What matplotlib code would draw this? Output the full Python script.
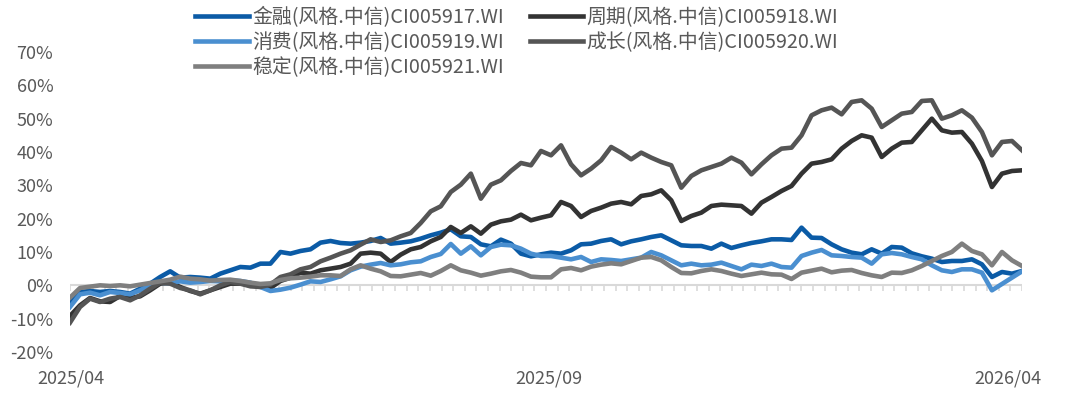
import numpy as np
import matplotlib
matplotlib.use("Agg")
import matplotlib.pyplot as plt

plt.rcParams['font.family'] = ['Noto Sans CJK SC', 'DejaVu Sans']

# cumulative return (%) of the CITIC style indices, roughly every 10 px of the source
finance = [-5, -2, -1.7, -2, -1.7, -2, -2.5, -1, 0.5, 2.5,
           4.2, 2.3, 2.5, 2.3, 2, 3.5, 4.5, 5.5, 5.3, 6.5,
           6.5, 10.0, 9.5, 10.3, 10.8, 12.8, 13.3, 12.7, 12.5, 12.8,
           13.3, 14.2, 12.5, 12.8, 13.2, 14, 15, 15.8, 16.8, 14.7,
           14.5, 12.3, 11.7, 13.7, 12.5, 9.5, 8.7, 9.3, 9.8, 9.5,
           10.5, 12.3, 12.5, 13.3, 13.8, 12.3, 13.2, 13.8, 14.5, 15,
           13.5, 12, 11.8, 11.8, 11, 12.5, 11.2, 12, 12.7, 13.2,
           13.8, 13.8, 13.6, 17.3, 14.3, 14.2, 12.3, 10.8, 9.8, 9.3,
           10.8, 9.5, 11.5, 11.3, 9.6, 8.7, 8, 7, 7.3, 7.3,
           7.8, 6.3, 2.5, 4, 3.5, 4.3]
cyclical = [-9.2, -6, -3.8, -4.8, -5, -3.2, -3.8, -3.3, -1.5, 0.5,
            0.8, -0.5, -1.7, -2.5, -1.5, -0.5, 0.5, 0.5, 0.3, -0.3,
            -0.8, 1.3, 2.3, 3.8, 3.5, 4.5, 5, 5.5, 6.5, 9.5,
            9.8, 9.5, 7, 9.2, 10.8, 11.5, 13.2, 14.5, 17.5, 15.7,
            17.7, 15.5, 18.2, 19.2, 19.7, 21.2, 19.5, 20.3, 21, 25,
            23.8, 20.5, 22.3, 23.3, 24.5, 25, 24.3, 26.8, 27.3, 28.5,
            25.5, 19.3, 20.8, 21.8, 23.8, 24.2, 24, 23.8, 21.5, 24.8,
            26.5, 28.3, 29.8, 33.5, 36.5, 37, 37.8, 41, 43.3, 45,
            44.3, 38.5, 41, 42.8, 43, 46.5, 50, 46.5, 45.8, 46,
            42.5, 37.3, 29.5, 33.5, 34.3, 34.5]
consumer = [-6.5, -2.7, -2.2, -3, -2, -2.3, -2.7, -1.5, 0, 0.8,
            0.6, 1.2, 0.8, 1, 1.3, 1.2, 1.5, 1.3, 0.8, -0.5,
            -1.7, -1.3, -0.7, 0.2, 1.2, 1, 1.8, 2.7, 4.5, 5.6,
            6.2, 6.7, 6, 6.3, 6.9, 7.2, 8.5, 9.4, 12.4, 9.5,
            11.7, 9, 11.5, 12.2, 12, 11, 9.5, 8.8, 8.8, 8.3,
            7.8, 8.5, 7, 7.8, 7.6, 7.3, 7.8, 8.3, 10, 9,
            7.5, 6, 6.5, 6, 6.2, 6.8, 5.8, 4.8, 6.2, 5.8,
            6.5, 5.5, 5.3, 8.8, 9.8, 10.6, 9, 8.8, 8.5, 8.3,
            6.5, 9.3, 9.7, 9.3, 8.5, 7.8, 6, 4.5, 4, 4.8,
            4.8, 3.8, -1.5, 0.4, 2.3, 4.2]
growth = [-11.2, -6.5, -4, -5, -4, -3.5, -4.5, -3, -1, 0.8,
          0.5, -0.8, -1.5, -2.7, -1.5, 0, 1, 0.5, -0.3, -0.5,
          0.2, 2.5, 3.3, 4.8, 5.5, 7.2, 8.3, 9.5, 10.5, 12.2,
          13.8, 13, 13.5, 14.7, 15.7, 18.7, 22.2, 23.7, 28, 30.2,
          33.5, 26, 30.2, 31.5, 34.3, 36.7, 36, 40.3, 39, 42,
          36.3, 33, 35, 37.5, 41.5, 39.8, 37.8, 39.8, 38.3, 37,
          36, 29.3, 32.8, 34.5, 35.5, 36.5, 38.3, 36.8, 33.3, 36.3,
          39, 41, 41.3, 45, 51, 52.5, 53.3, 51.3, 55, 55.5,
          53, 47.5, 49.5, 51.5, 52, 55.3, 55.5, 50, 51, 52.5,
          50.3, 46, 39, 43, 43.3, 40.5]
stable = [-3.7, -0.8, -0.4, 0, -0.2, 0, -0.3, 0.2, 0.7, 1.2,
          1.7, 2.6, 2, 1.8, 1.4, 1.6, 1.7, 1.3, 0.8, 0.4,
          0.6, 1.6, 2.1, 2.3, 2.6, 3, 3, 2.8, 4.8, 6,
          5, 4.2, 2.8, 2.7, 3.2, 3.7, 2.9, 4.3, 6, 4.5,
          3.8, 2.9, 3.5, 4.2, 4.6, 3.8, 2.6, 2.4, 2.4, 4.8,
          5.2, 4.5, 5.6, 6.2, 6.6, 6.3, 7.3, 8.3, 8.5, 7.5,
          5.5, 3.7, 3.6, 4.3, 4.8, 4.3, 3.5, 2.8, 3.3, 3.8,
          3.3, 3.2, 1.9, 3.8, 4.4, 5, 3.9, 4.4, 4.6, 3.7,
          3, 2.5, 3.8, 3.7, 4.5, 5.8, 7.3, 8.8, 10, 12.5,
          10.3, 9.3, 6, 10, 7.5, 5.8]

names = ["金融(风格.中信)CI005917.WI", "周期(风格.中信)CI005918.WI",
         "消费(风格.中信)CI005919.WI", "成长(风格.中信)CI005920.WI",
         "稳定(风格.中信)CI005921.WI"]
colors = ["#0b5ba6", "#333333", "#4a8fd0", "#555555", "#7f7f7f"]
date_labels = ["2025/04", "2025/09", "2026/04"]
yticks = [-20, -10, 0, 10, 20, 30, 40, 50, 60, 70]

series = [finance, cyclical, consumer, growth, stable]
n = len(finance)
x = np.arange(n)

fig = plt.figure(figsize=(10.8, 3.98), dpi=100)
ax = fig.add_axes([0.0648, 0.1156, 0.8815, 0.7538])

lines = []
for vals, name, c in zip(series, names, colors):
    ln, = ax.plot(x, vals, color=c, lw=3.3, label=name, solid_joinstyle="round")
    lines.append(ln)

# zero line with small category ticks hanging under it
ax.axhline(0, color="#d9d9d9", lw=1.5, zorder=0)
ax.vlines(np.linspace(0, n - 1, 83), -1.8, 0, color="#d9d9d9", lw=1.2, zorder=0)

ax.set_xlim(0, n - 1)
ax.set_ylim(-20, 70)
ax.set_yticks(yticks)
ax.set_yticklabels([f"{v}%" for v in yticks])
ax.tick_params(axis="y", length=0, pad=12, labelsize=13, labelcolor="#595959")
ax.set_xticks([])
for s in ax.spines.values():
    s.set_visible(False)

for pos, lab in zip([0.1, 47.8, 93.6], date_labels):
    ax.text(pos, -0.087, lab, transform=ax.get_xaxis_transform(), ha="center",
            va="center", fontsize=13, color="#595959")

order = [0, 2, 4, 1, 3]
fig.legend([lines[i] for i in order], [names[i] for i in order],
           loc="upper left", bbox_to_anchor=(0.168, 1.018), ncol=2, frameon=False,
           fontsize=14.3, labelcolor="#595959", handlelength=2.7, handletextpad=0.15,
           columnspacing=1.3, labelspacing=0.2, borderpad=0.2)

fig.savefig("out.png", dpi=100)
